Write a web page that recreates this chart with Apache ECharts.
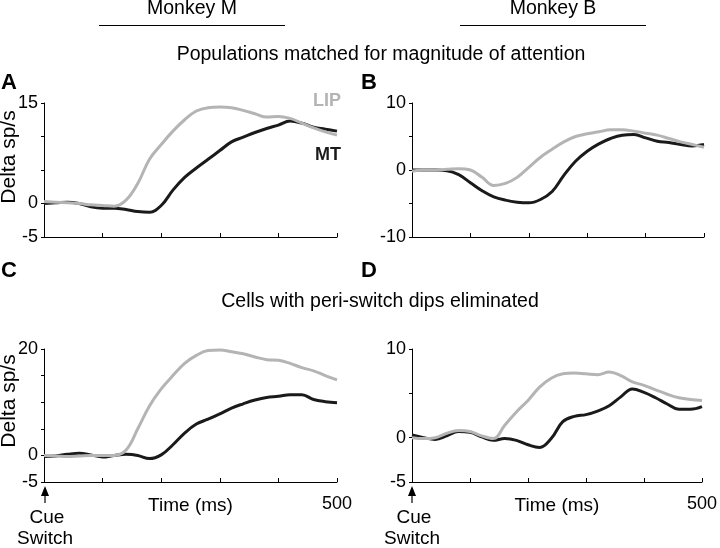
<!DOCTYPE html>
<html>
<head>
<meta charset="utf-8">
<script src="https://cdn.jsdelivr.net/npm/echarts@6/dist/echarts.min.js"></script>
<style>
  html, body { margin: 0; padding: 0; background: #fff; }
  #chart { width: 720px; height: 548px; }
</style>
</head>
<body>
<div id="chart"></div>
<script>
// time after cue switch (ms), shared by every trace
var times = [0, 20, 40, 60, 80, 100, 120, 140, 160, 180, 200, 220, 240, 260, 280, 300, 320, 340, 360, 380, 400, 420, 440, 460, 480, 500];

// A: Monkey M, matched populations
var lipA = [0.3, 0.2, 0.1, 0, -0.2, -0.3, -0.4, 0.5, 3.0, 6.6, 8.8, 10.8, 12.5, 13.8, 14.3, 14.4, 14.3, 13.9, 13.4, 12.9, 13.0, 12.7, 12.0, 11.3, 10.7, 10.2];
var mtA  = [0, 0.1, 0.2, 0, -0.5, -0.7, -0.7, -0.9, -1.2, -1.3, -0.3, 2.0, 3.9, 5.3, 6.6, 7.9, 9.2, 9.9, 10.6, 11.2, 11.7, 12.3, 12.0, 11.4, 11.1, 10.8];
// B: Monkey B, matched populations
var lipB = [-0.2, 0, 0, 0.1, 0.2, 0, -1.1, -2.3, -2.0, -1.1, 0.4, 1.9, 3.1, 4.2, 5.0, 5.4, 5.7, 6.0, 6.0, 5.8, 5.5, 5.2, 4.7, 4.2, 3.8, 3.4];
var mtB  = [0, 0, 0, -0.1, -0.7, -1.9, -3.1, -4.0, -4.5, -4.8, -4.9, -4.4, -3.2, -0.8, 1.3, 2.8, 3.9, 4.7, 5.2, 5.3, 4.8, 4.3, 4.1, 3.8, 3.6, 3.8];
// C: Monkey M, dips eliminated
var lipC = [0, -0.1, -0.2, -0.1, 0, 0, 0, 1.0, 5.0, 9.3, 12.5, 15.0, 17.3, 18.8, 19.7, 19.8, 19.5, 19.1, 18.5, 18.0, 17.9, 17.3, 16.5, 15.9, 15.0, 14.2];
var mtC  = [-0.2, -0.1, 0.2, 0.4, 0.1, -0.3, 0, 0.2, 0, -0.6, 0.1, 2.0, 4.2, 5.9, 6.8, 7.8, 8.9, 9.7, 10.4, 10.9, 11.1, 11.4, 11.4, 10.5, 10.1, 9.9];
// D: Monkey B, dips eliminated
var lipD = [0, -0.1, 0, 0.5, 0.8, 0.7, 0.2, -0.1, 1.4, 2.9, 4.2, 5.7, 6.7, 7.2, 7.3, 7.2, 7.1, 7.4, 7.0, 6.3, 5.9, 5.4, 4.9, 4.5, 4.3, 4.2];
var mtD  = [0.3, 0, -0.2, 0.2, 0.7, 0.6, 0.1, -0.3, -0.1, -0.3, -0.8, -1.1, -0.1, 1.8, 2.4, 2.6, 3.0, 3.6, 4.6, 5.5, 5.1, 4.5, 3.8, 3.2, 3.2, 3.5];

// y axis ranges and which ticks get a label
var yMins = [-5, -10, -5, -5];
var yMaxs = [15, 10, 20, 10];
var yLabels = [[-5, 0, 15], [-10, 0, 10], [-5, 0, 20], [-5, 0, 10]];

var FONT = 'Liberation Sans';
var LIP_COLOR = '#b4b4b4';
var MT_COLOR = '#1a1a1a';

function pairs(vals) {
  return times.map(function (t, i) { return [t, vals[i]]; });
}

var chart = echarts.init(document.getElementById('chart'));

var grids = [
  { left: 44, top: 103, width: 293, height: 134 },
  { left: 412, top: 103, width: 292, height: 134 },
  { left: 44, top: 349, width: 293, height: 133 },
  { left: 412, top: 349, width: 292, height: 133 }
];

var xAxes = [], yAxes = [];
for (let i = 0; i < 4; i++) {
  let bottomRow = i >= 2;
  xAxes.push({
    gridIndex: i,
    type: 'value',
    min: 0, max: 500, interval: 100,
    axisLine: { onZero: false, lineStyle: { color: '#000', width: 1 } },
    axisTick: { show: true, inside: true, length: 4, lineStyle: { color: '#000' } },
    splitLine: { show: false },
    axisLabel: {
      show: bottomRow,
      margin: 13,
      color: '#000', fontFamily: FONT, fontSize: 18,
      formatter: function (v) { return v === 500 ? '500' : ''; }
    },
    name: bottomRow ? 'Time (ms)' : '',
    nameLocation: 'middle',
    nameGap: 14,
    nameMoveOverlap: false,
    nameTextStyle: { color: '#000', fontFamily: FONT, fontSize: 19 }
  });
  let labels = yLabels[i];
  yAxes.push({
    gridIndex: i,
    type: 'value',
    min: yMins[i], max: yMaxs[i], interval: 5,
    axisLine: { show: true, onZero: false, lineStyle: { color: '#000', width: 1 } },
    axisTick: { show: true, length: 3, lineStyle: { color: '#000' } },
    splitLine: { show: false },
    axisLabel: {
      margin: 6,
      color: '#000', fontFamily: FONT, fontSize: 18,
      formatter: function (v) { return labels.indexOf(v) >= 0 ? String(v) : ''; }
    }
  });
}

function line(name, idx, vals, color) {
  return {
    name: name, type: 'line', xAxisIndex: idx, yAxisIndex: idx,
    data: pairs(vals), smooth: 0.4, showSymbol: false, symbol: 'none',
    lineStyle: { color: color, width: 3 }
  };
}

var series = [
  line('MT', 0, mtA, MT_COLOR), line('LIP', 0, lipA, LIP_COLOR),
  line('MT', 1, mtB, MT_COLOR), line('LIP', 1, lipB, LIP_COLOR),
  line('MT', 2, mtC, MT_COLOR), line('LIP', 2, lipC, LIP_COLOR),
  line('MT', 3, mtD, MT_COLOR), line('LIP', 3, lipD, LIP_COLOR)
];

function txt(x, y, s, size, opts) {
  opts = opts || {};
  return {
    type: 'text', x: x, y: y, rotation: opts.rotation || 0,
    style: {
      text: s, fill: opts.color || '#000', fontFamily: FONT, fontSize: size,
      fontWeight: opts.bold ? 'bold' : 'normal',
      align: opts.align || 'center', verticalAlign: 'middle'
    }
  };
}

function cueArrow(x) {
  return [
    { type: 'line', shape: { x1: x, y1: 494, x2: x, y2: 503 }, style: { stroke: '#000', lineWidth: 1.2 } },
    { type: 'polygon', shape: { points: [[x, 486], [x - 4, 496], [x + 4, 496]] }, style: { fill: '#000' } },
    txt(x + 2, 518, 'Cue', 19),
    txt(x, 539, 'Switch', 19)
  ];
}

var graphics = [
  txt(192, 9, 'Monkey M', 19.5),
  { type: 'line', shape: { x1: 99, y1: 25.5, x2: 285, y2: 25.5 }, style: { stroke: '#000', lineWidth: 1 } },
  txt(553, 9, 'Monkey B', 19.5),
  { type: 'line', shape: { x1: 460, y1: 25.5, x2: 646, y2: 25.5 }, style: { stroke: '#000', lineWidth: 1 } },
  txt(381, 55, 'Populations matched for magnitude of attention', 19.5),
  txt(380, 302, 'Cells with peri-switch dips eliminated', 19.5),
  txt(1, 83, 'A', 22, { bold: true, align: 'left' }),
  txt(361, 83, 'B', 22, { bold: true, align: 'left' }),
  txt(1, 271, 'C', 22, { bold: true, align: 'left' }),
  txt(361, 271, 'D', 22, { bold: true, align: 'left' }),
  txt(9, 157, 'Delta sp/s', 21, { rotation: Math.PI / 2 }),
  txt(9, 401, 'Delta sp/s', 21, { rotation: Math.PI / 2 }),
  txt(341, 101, 'LIP', 18, { bold: true, align: 'right', color: LIP_COLOR }),
  txt(341, 155, 'MT', 18, { bold: true, align: 'right', color: MT_COLOR })
].concat(cueArrow(45), cueArrow(412));

chart.setOption({
  animation: false,
  backgroundColor: '#fff',
  grid: grids,
  xAxis: xAxes,
  yAxis: yAxes,
  series: series,
  graphic: graphics
});
</script>
</body>
</html>
